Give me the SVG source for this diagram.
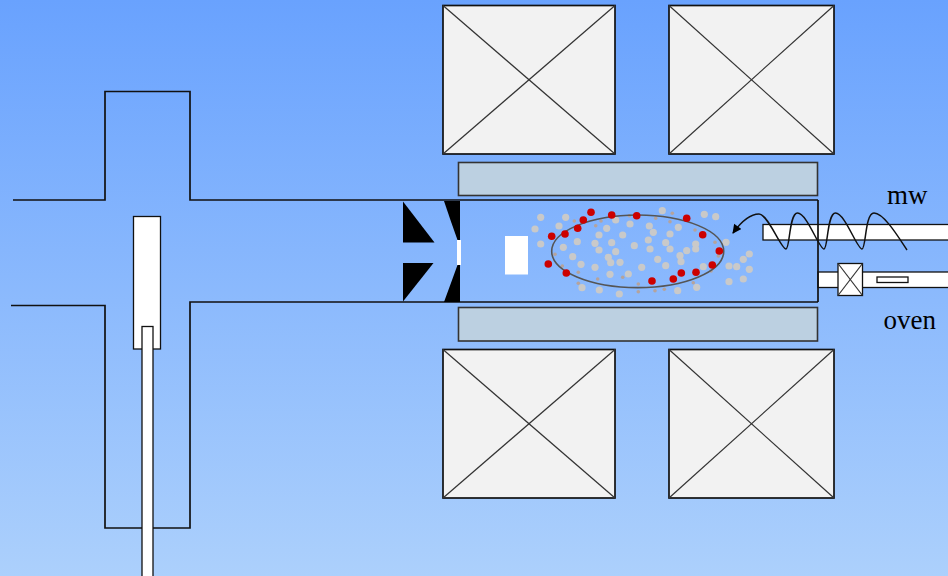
<svg xmlns="http://www.w3.org/2000/svg" width="948" height="576" viewBox="0 0 948 576">
  <defs>
    <linearGradient id="bg" x1="0" y1="0" x2="0" y2="1">
      <stop offset="0" stop-color="#69a2fe"/>
      <stop offset="1" stop-color="#acd0fc"/>
    </linearGradient>
    <marker id="head" viewBox="0 0 10 10" refX="9" refY="5" markerWidth="10" markerHeight="9" orient="auto-start-reverse" markerUnits="userSpaceOnUse">
      <path d="M0,0 L10,5 L0,10 Z" fill="#000"/>
    </marker>
  </defs>
  <style>
    .wall { fill: none; stroke: #111; stroke-width: 1.7; }
    .coil { fill: #f2f2f2; stroke: #111; stroke-width: 1.7; }
    .x { stroke: #333; stroke-width: 1.2; }
    .bar { fill: #bcd0e1; stroke: #333; stroke-width: 1.6; }
    .tube { fill: #fff; stroke: #111; stroke-width: 1.3; }
    .red circle { fill: #cc0000; }
    .gas circle { fill: #c9c9c9; }
    .trace circle { fill: #b5a39c; }
    .lbl { font-family: "Liberation Serif", "Times New Roman", serif; font-size: 27px; fill: #000; }
  </style>

  <rect width="948" height="576" fill="url(#bg)"/>

  <!-- beam line and left vacuum cross -->
  <g id="beamline">
    <polyline class="wall" points="13,200 105,200 105,91.5 190,91.5 190,200 818,200"/>
    <polyline class="wall" points="11,305.5 105,305.5 105,528 190,528 190,302 818,302"/>
  </g>

  <!-- probe rods -->
  <g id="probe">
    <rect class="tube" x="133.5" y="216.5" width="27" height="132.5"/>
    <rect class="tube" x="142" y="326.5" width="11" height="252"/>
  </g>

  <!-- solenoid coils -->
  <g id="coil-top-left">
    <rect class="coil" x="443" y="5.5" width="172" height="148.5"/>
    <line class="x" x1="443" y1="5.5" x2="615" y2="154"/>
    <line class="x" x1="615" y1="5.5" x2="443" y2="154"/>
  </g>
  <g id="coil-top-right">
    <rect class="coil" x="669" y="5.5" width="165" height="148.5"/>
    <line class="x" x1="669" y1="5.5" x2="834" y2="154"/>
    <line class="x" x1="834" y1="5.5" x2="669" y2="154"/>
  </g>
  <g id="coil-bottom-left">
    <rect class="coil" x="443" y="349.5" width="172" height="148.5"/>
    <line class="x" x1="443" y1="349.5" x2="615" y2="498"/>
    <line class="x" x1="615" y1="349.5" x2="443" y2="498"/>
  </g>
  <g id="coil-bottom-right">
    <rect class="coil" x="669" y="349.5" width="165" height="148.5"/>
    <line class="x" x1="669" y1="349.5" x2="834" y2="498"/>
    <line class="x" x1="834" y1="349.5" x2="669" y2="498"/>
  </g>

  <!-- hexapole bars -->
  <g id="bar-top"><rect class="bar" x="458.5" y="162.5" width="359" height="33"/></g>
  <g id="bar-bottom"><rect class="bar" x="458.5" y="307.5" width="359" height="33.5"/></g>

  <!-- extraction electrodes -->
  <g id="extraction">
    <polygon points="403,201.5 403,242.5 434.5,242.5" fill="#000"/>
    <polygon points="403,263 433.5,263 403,301.5" fill="#000"/>
    <path d="M444,201 L460,201 L460,240 L457.5,240 Q451,222 444,201 Z" fill="#000"/>
    <path d="M444,302 L460,302 L460,265 L457.5,265 Q451,283 444,302 Z" fill="#000"/>
    <rect x="457" y="240" width="4" height="25" fill="#fff"/>
  </g>

  <!-- bias disc -->
  <g id="disc"><rect x="505" y="236" width="23" height="38.5" fill="#fff"/></g>

  <!-- plasma -->
  <g id="plasma">
    <g class="trace">
      <circle cx="574.3" cy="221" r="1.8"/><circle cx="595.7" cy="225.7" r="1.8"/>
      <circle cx="601" cy="221" r="1.8"/><circle cx="629.3" cy="215.7" r="1.8"/>
      <circle cx="555" cy="254.3" r="1.8"/><circle cx="562.3" cy="266" r="1.8"/>
      <circle cx="578.3" cy="272.3" r="1.8"/><circle cx="597.7" cy="279" r="1.8"/>
      <circle cx="622.7" cy="277.3" r="1.8"/><circle cx="578.3" cy="283.3" r="1.8"/>
      <circle cx="638.3" cy="284" r="1.8"/><circle cx="672.3" cy="213.3" r="1.8"/>
      <circle cx="655.7" cy="218.3" r="1.8"/><circle cx="670" cy="221.7" r="1.8"/>
      <circle cx="695" cy="230" r="1.8"/><circle cx="715" cy="242.3" r="1.8"/>
      <circle cx="718.3" cy="256" r="1.8"/><circle cx="711" cy="271" r="1.8"/>
      <circle cx="655" cy="290.7" r="1.8"/><circle cx="664.3" cy="289.3" r="1.8"/>
      <circle cx="693.3" cy="282.7" r="1.8"/><circle cx="638.3" cy="291.7" r="1.8"/>
    </g>
    <g class="gas">
      <circle cx="540.7" cy="217.3" r="3.6"/><circle cx="535" cy="229" r="3.6"/>
      <circle cx="540.7" cy="244" r="3.6"/><circle cx="565.7" cy="217.3" r="3.6"/>
      <circle cx="559" cy="226" r="3.6"/><circle cx="606.7" cy="228.3" r="3.6"/>
      <circle cx="615.7" cy="220" r="3.6"/><circle cx="599" cy="235" r="3.6"/>
      <circle cx="577.3" cy="241.7" r="3.6"/><circle cx="563.3" cy="247.3" r="3.6"/>
      <circle cx="595" cy="243.3" r="3.6"/><circle cx="599" cy="250" r="3.6"/>
      <circle cx="622.7" cy="235" r="3.6"/><circle cx="630" cy="224" r="3.6"/>
      <circle cx="611.7" cy="242.7" r="3.6"/><circle cx="615.7" cy="251.7" r="3.6"/>
      <circle cx="634.3" cy="245.7" r="3.6"/><circle cx="572.7" cy="256.7" r="3.6"/>
      <circle cx="581" cy="264.3" r="3.6"/><circle cx="595" cy="267.3" r="3.6"/>
      <circle cx="608.3" cy="257.3" r="3.6"/><circle cx="610.7" cy="262.7" r="3.6"/>
      <circle cx="620" cy="262.3" r="3.6"/><circle cx="610" cy="274.3" r="3.6"/>
      <circle cx="628.3" cy="274" r="3.6"/><circle cx="582" cy="287.7" r="3.6"/>
      <circle cx="599.3" cy="290" r="3.6"/><circle cx="619.3" cy="294" r="3.6"/>
      <circle cx="662.3" cy="210.7" r="3.6"/><circle cx="704.3" cy="214.3" r="3.6"/>
      <circle cx="715.7" cy="216.7" r="3.6"/><circle cx="649.3" cy="226" r="3.6"/>
      <circle cx="653.3" cy="232.3" r="3.6"/><circle cx="670" cy="234" r="3.6"/>
      <circle cx="678.3" cy="227.3" r="3.6"/><circle cx="648.3" cy="240" r="3.6"/>
      <circle cx="650" cy="249" r="3.6"/><circle cx="665.7" cy="242.7" r="3.6"/>
      <circle cx="670" cy="249" r="3.6"/><circle cx="686.7" cy="250.7" r="3.6"/>
      <circle cx="695.7" cy="244" r="3.6"/><circle cx="695.7" cy="249" r="3.6"/>
      <circle cx="680" cy="255.7" r="3.6"/><circle cx="681" cy="261.7" r="3.6"/>
      <circle cx="657.7" cy="259.3" r="3.6"/><circle cx="641.7" cy="267.3" r="3.6"/>
      <circle cx="665.7" cy="265.7" r="3.6"/><circle cx="703.3" cy="266.7" r="3.6"/>
      <circle cx="726" cy="242.3" r="3.6"/><circle cx="729" cy="266" r="3.6"/>
      <circle cx="736.7" cy="266.7" r="3.6"/><circle cx="743.3" cy="259.3" r="3.6"/>
      <circle cx="749.3" cy="254" r="3.6"/><circle cx="749.3" cy="269.3" r="3.6"/>
      <circle cx="729" cy="281.7" r="3.6"/><circle cx="743.3" cy="279" r="3.6"/>
      <circle cx="677.7" cy="290.7" r="3.6"/><circle cx="696.7" cy="287.3" r="3.6"/>
    </g>
    <ellipse cx="637.7" cy="251.3" rx="86" ry="36.3" fill="none" stroke="#555" stroke-width="1.6"/>
    <g class="red">
      <circle cx="591" cy="212.3" r="3.8"/><circle cx="583.3" cy="220" r="3.8"/>
      <circle cx="577.7" cy="228.3" r="3.8"/><circle cx="551.7" cy="236.3" r="3.8"/>
      <circle cx="565" cy="234" r="3.8"/><circle cx="611.7" cy="215" r="3.8"/>
      <circle cx="636.7" cy="215.7" r="3.8"/><circle cx="686.7" cy="218.3" r="3.8"/>
      <circle cx="702.7" cy="234.7" r="3.8"/><circle cx="719.3" cy="251" r="3.8"/>
      <circle cx="712.3" cy="265" r="3.8"/><circle cx="696" cy="272.3" r="3.8"/>
      <circle cx="681.3" cy="273" r="3.8"/><circle cx="673.3" cy="279" r="3.8"/>
      <circle cx="652" cy="281" r="3.8"/><circle cx="548.3" cy="264" r="3.8"/>
      <circle cx="566.3" cy="273" r="3.8"/>
    </g>
  </g>

  <!-- microwave guide and oven -->
  <g id="mw-guide"><rect class="tube" x="763" y="224.5" width="190" height="15.5"/></g>
  <g id="oven">
    <rect class="tube" x="818" y="272" width="135" height="15.5"/>
    <rect class="tube" x="838" y="263.5" width="24.5" height="32"/>
    <line class="x" x1="838" y1="263.5" x2="862.5" y2="295.5"/>
    <line class="x" x1="862.5" y1="263.5" x2="838" y2="295.5"/>
    <rect class="tube" x="877" y="277" width="31" height="5.5" stroke-width="1.1"/>
  </g>

  <!-- chamber end wall, drawn across the microwave guide -->
  <g id="end-wall"><line class="wall" x1="818" y1="200" x2="818" y2="302"/></g>

  <!-- microwave wave feeding the plasma -->
  <g id="connectors">
    <path d="M907,250 C899,238 884,213 874,213 C865,213 866,249 862,249 C857,249 845,213 835.5,213 C827,213 828,249 824,249 C819,249 807,213 797.5,213 C789,213 790,249 786,249 C781,249 768,214 759,214 C750,214 741,222 733,233"
          fill="none" stroke="#111" stroke-width="1.5" marker-end="url(#head)"/>
  </g>

  <text class="lbl" x="887" y="203.5">mw</text>
  <text class="lbl" x="883.5" y="329">oven</text>
</svg>
